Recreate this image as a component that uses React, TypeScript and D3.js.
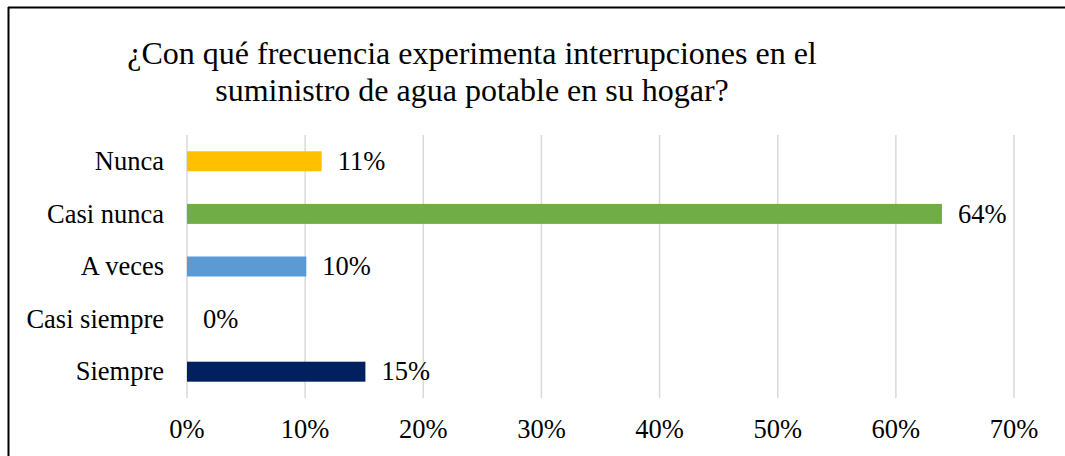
import React from "react";
import * as d3 from "d3";

// chart data, top to bottom
const categories = ["Nunca", "Casi nunca", "A veces", "Casi siempre", "Siempre"];
const values = [0.114, 0.639, 0.101, 0, 0.151];
const barColors = ["#FFC000", "#70AD47", "#5B9BD5", "#4472C4", "#002060"];
const ticks = [0, 0.1, 0.2, 0.3, 0.4, 0.5, 0.6, 0.7];
const titleLines = [
    "¿Con qué frecuencia experimenta interrupciones en el",
    "suministro de agua potable en su hogar?",
];

const W = 1065;
const H = 456;
const FONT = "'Times New Roman', 'Liberation Serif', serif";

const App: React.FC = () => {
    const x = d3.scaleLinear().domain([0, 0.7]).range([187, 1014]);
    const y = d3
        .scaleBand<string>()
        .domain(categories)
        .range([135, 398])
        .paddingInner(0.62)
        .paddingOuter(0.31);
    const fmt = d3.format(".0%");

    return (
        <svg
            width={W}
            height={H}
            style={{
                position: "absolute",
                left: 0,
                top: 0,
                background: "#fff",
                fontFamily: FONT,
                fontSize: 26.5,
            }}
        >
            {/* frame, only top and left edges are visible */}
            <line x1={8} y1={7.5} x2={W} y2={7.5} stroke="#000" strokeWidth={2} />
            <line x1={8.5} y1={7} x2={8.5} y2={H} stroke="#000" strokeWidth={2} />

            {/* title */}
            <g fill="#000" textAnchor="middle" fontSize={32}>
                {titleLines.map((t, i) => (
                    <text key={i} x={472} y={64 + i * 37}>
                        {t}
                    </text>
                ))}
            </g>

            {/* gridlines */}
            {ticks.map((t) => (
                <line
                    key={t}
                    x1={x(t)}
                    x2={x(t)}
                    y1={135}
                    y2={398}
                    stroke="#d9d9d9"
                    strokeWidth={1.5}
                />
            ))}

            {/* tick labels */}
            {ticks.map((t) => (
                <text key={"l" + t} x={x(t)} y={438} textAnchor="middle" fill="#000">
                    {fmt(t)}
                </text>
            ))}

            {/* bars */}
            {categories.map((c, i) => {
                const y0 = y(c) as number;
                const cy = y0 + y.bandwidth() / 2;
                return (
                    <g key={c}>
                        <text x={164} y={cy} dy="0.33em" textAnchor="end" fill="#000">
                            {c}
                        </text>
                        {values[i] > 0 && (
                            <rect
                                x={x(0)}
                                y={y0}
                                width={x(values[i]) - x(0)}
                                height={y.bandwidth()}
                                fill={barColors[i]}
                            />
                        )}
                        <text x={x(values[i]) + 16} y={cy} dy="0.33em" fill="#000">
                            {fmt(values[i])}
                        </text>
                    </g>
                );
            })}
        </svg>
    );
};

export default App;
